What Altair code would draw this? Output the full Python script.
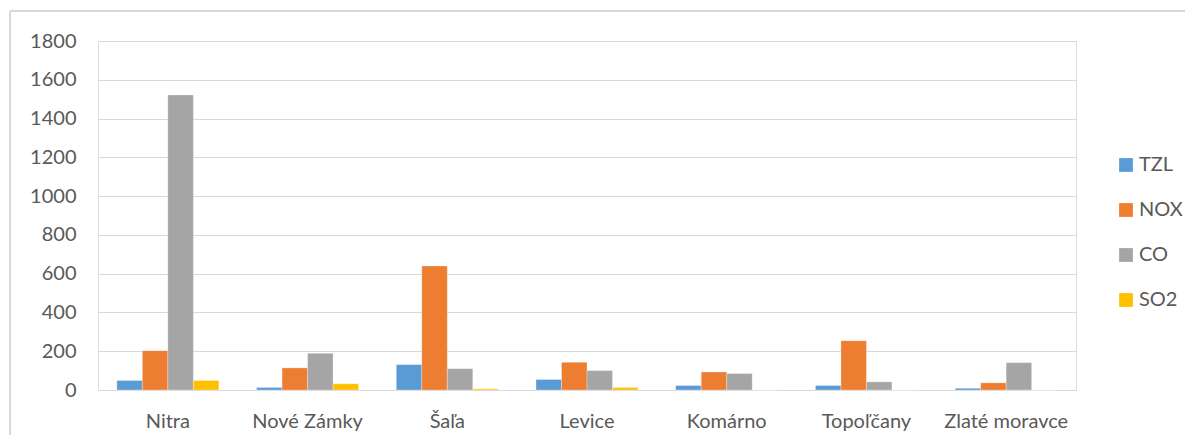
import altair as alt
import pandas as pd

categories = ["Nitra", "Nové Zámky", "Šaľa", "Levice", "Komárno", "Topoľčany", "Zlaté moravce"]
series = ["TZL", "NOX", "CO", "SO2"]
tzl = [49, 13, 131, 54, 23, 23, 9]
nox = [203, 114, 640, 143, 93, 254, 37]
co = [1522, 189, 110, 100, 85, 42, 141]
so2 = [49, 32, 6, 13, 0, 0, 0]
colors = ["#5B9BD5", "#ED7D31", "#A5A5A5", "#FFC000"]
y_ticks = [0, 200, 400, 600, 800, 1000, 1200, 1400, 1600, 1800]

rows = []
for name, vals in zip(series, [tzl, nox, co, so2]):
    for c, v in zip(categories, vals):
        rows.append({"Okres": c, "Látka": name, "Hodnota": v})
df = pd.DataFrame(rows)

W, H = 978, 349
FONT = "Lato"
FS = 20
TXT = "#595959"
GRID = "#D9D9D9"

bars = alt.Chart(df).mark_bar(stroke="white", strokeWidth=0.5, strokeOpacity=0.6).encode(
    x=alt.X("Okres:N", sort=categories, title=None,
            scale=alt.Scale(paddingInner=0.27, paddingOuter=0.135),
            axis=alt.Axis(labelAngle=0, labelFontSize=FS, labelColor=TXT, labelFont=FONT,
                          labelPadding=21, ticks=False, domain=False, grid=False)),
    xOffset=alt.XOffset("Látka:N", sort=series, scale=alt.Scale(paddingInner=0, paddingOuter=0)),
    y=alt.Y("Hodnota:Q", title=None,
            scale=alt.Scale(domain=[0, 1800], nice=False),
            axis=alt.Axis(values=y_ticks, format="d", labelFontSize=FS, labelColor=TXT,
                          labelFont=FONT, labelPadding=22, ticks=False, domain=False,
                          gridColor=GRID, gridWidth=1.2)),
    color=alt.Color("Látka:N", sort=series,
                    scale=alt.Scale(domain=series, range=colors),
                    legend=alt.Legend(title=None, orient="none", legendX=1018, legendY=114,
                                      symbolType="square", symbolSize=190, symbolStrokeWidth=0,
                                      labelFontSize=FS, labelColor=TXT, labelFont=FONT,
                                      rowPadding=25, labelOffset=3)),
)

frame_top = alt.Chart(df).mark_rule(color=GRID, strokeWidth=1.5).encode(
    x=alt.value(-88), x2=alt.value(1100), y=alt.value(-30))
frame_left = alt.Chart(df).mark_rule(color=GRID, strokeWidth=1.5).encode(
    x=alt.value(-88), y=alt.value(-30), y2=alt.value(420))

chart = alt.layer(frame_top, frame_left, bars).properties(
    width=W, height=H,
    autosize=alt.AutoSizeParams(type="none"),
    padding={"left": 90, "top": 33, "right": 109, "bottom": 45},
).configure_view(stroke=None).configure(background="white")

chart.save("out.html", embed_options={"renderer": "svg", "actions": False})
